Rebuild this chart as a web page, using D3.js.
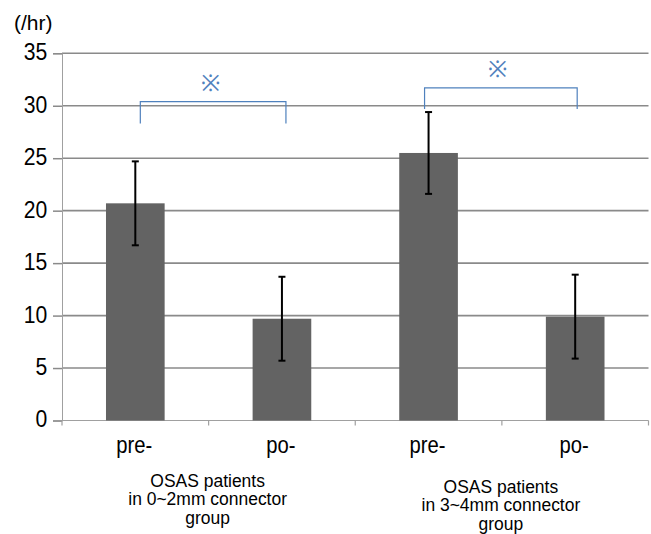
<!DOCTYPE html>
<html>
<head>
<meta charset="utf-8">
<script src="https://cdn.jsdelivr.net/npm/d3@7"></script>
<style>
  html, body { margin: 0; padding: 0; background: #fff; }
  text { font-family: "Liberation Sans", Arial, Helvetica, sans-serif; fill: #000; }
</style>
</head>
<body>
<div id="chart"></div>
<script>
// values
const categories = ['pre-', 'po-', 'pre-', 'po-'];
const means = [20.7, 9.7, 25.5, 9.9];
const errors = [4.0, 4.0, 3.9, 4.0];
const yTicks = [0, 5, 10, 15, 20, 25, 30, 35];
const groupLabels = [
  ['OSAS patients', 'in 0~2mm connector', 'group'],
  ['OSAS patients', 'in 3~4mm connector', 'group']
];
// significance brackets: [from bar, to bar, top value, leg value, mark value]
const brackets = [
  [0, 1, 30.4, 28.3, 32.2],
  [2, 3, 31.7, 29.7, 33.5]
];

const width = 651, height = 534;
const margin = { top: 53.3, right: 2.5, bottom: 113.5, left: 62 };

const svg = d3.select('#chart')
  .append('svg')
  .attr('width', width)
  .attr('height', height);

const x = d3.scaleBand()
  .domain(d3.range(categories.length))
  .range([margin.left, width - margin.right])
  .paddingInner(0.6)
  .paddingOuter(0.3);

const y = d3.scaleLinear()
  .domain([0, 35])
  .range([height - margin.bottom, margin.top]);

// gridlines
svg.append('g')
  .selectAll('line')
  .data(yTicks.filter(d => d > 0))
  .join('line')
  .attr('x1', margin.left)
  .attr('x2', width - margin.right)
  .attr('y1', d => y(d))
  .attr('y2', d => y(d))
  .attr('stroke', '#8a8a8a')
  .attr('stroke-width', 1.6);

// y axis
const yAxis = svg.append('g')
  .attr('transform', `translate(${margin.left},0)`)
  .call(d3.axisLeft(y).tickValues(yTicks).tickSize(9).tickPadding(7));
yAxis.select('.domain').attr('stroke', '#a0a0a0').attr('stroke-width', 1);
yAxis.selectAll('.tick line').attr('stroke', '#8a8a8a').attr('stroke-width', 1.5);
yAxis.selectAll('.tick text')
  .attr('font-size', 23)
  .attr('font-family', '"Liberation Sans", Arial, sans-serif')
  .attr('fill', '#000')
  .attr('dy', '0.28em')
  .attr('transform', 'scale(0.92,1)');

// x axis with ticks at band boundaries
const xAxisY = y(0);
svg.append('line')
  .attr('x1', margin.left)
  .attr('x2', width - margin.right)
  .attr('y1', xAxisY)
  .attr('y2', xAxisY)
  .attr('stroke', '#a0a0a0')
  .attr('stroke-width', 1.2);

const bounds = d3.range(categories.length + 1)
  .map(i => i < categories.length ? x(i) - x.step() * x.paddingOuter() : width - margin.right);
svg.append('g')
  .selectAll('line')
  .data(bounds)
  .join('line')
  .attr('x1', d => d)
  .attr('x2', d => d)
  .attr('y1', xAxisY)
  .attr('y2', xAxisY + 5)
  .attr('stroke', '#a0a0a0')
  .attr('stroke-width', 1.2);

// bars
svg.append('g')
  .selectAll('rect')
  .data(means)
  .join('rect')
  .attr('x', (d, i) => x(i))
  .attr('y', d => y(d))
  .attr('width', x.bandwidth())
  .attr('height', d => y(0) - y(d))
  .attr('fill', '#636363');

// error bars
const cx = i => x(i) + x.bandwidth() / 2;
const eb = svg.append('g').attr('stroke', '#000').attr('stroke-width', 2);
means.forEach((m, i) => {
  const lo = y(m - errors[i]), hi = y(m + errors[i]);
  eb.append('line').attr('x1', cx(i)).attr('x2', cx(i)).attr('y1', lo).attr('y2', hi);
  eb.append('line').attr('x1', cx(i) - 3.5).attr('x2', cx(i) + 3.5).attr('y1', lo).attr('y2', lo);
  eb.append('line').attr('x1', cx(i) - 3.5).attr('x2', cx(i) + 3.5).attr('y1', hi).attr('y2', hi);
});

// x tick labels
svg.append('g')
  .selectAll('text')
  .data(categories)
  .join('text')
  .attr('transform', (d, i) => `translate(${cx(i) - 1},452.7) scale(0.88,1)`)
  .attr('text-anchor', 'middle')
  .attr('font-size', 23)
  .text(d => d);

// group labels
groupLabels.forEach((lines, g) => {
  const gx = (cx(g * 2) + cx(g * 2 + 1)) / 2 - 1;
  const base = g === 0 ? 486.5 : 492.5;
  lines.forEach((s, k) => {
    svg.append('text')
      .attr('transform', `translate(${gx},${base + k * 18.5}) scale(0.945,1)`)
      .attr('text-anchor', 'middle')
      .attr('font-size', 18.5)
      .text(s);
  });
});

// significance brackets
const nudge = [[5, 4], [-4, 2]];
brackets.forEach(([a, b, top, leg, mark], k) => {
  const x1 = cx(a) + nudge[k][0], x2 = cx(b) + nudge[k][1];
  svg.append('path')
    .attr('d', `M${x1},${y(leg)}V${y(top)}H${x2}V${y(leg)}`)
    .attr('fill', 'none')
    .attr('stroke', '#4f81bd')
    .attr('stroke-width', 1.2);
  svg.append('text')
    .attr('x', (x1 + x2) / 2 - 3)
    .attr('y', y(mark))
    .attr('dy', '0.35em')
    .attr('text-anchor', 'middle')
    .attr('font-size', 23)
    .attr('font-family', '"Noto Sans CJK JP", "DejaVu Sans", sans-serif')
    .style('fill', '#4f81bd')
    .text('※');
});

// unit label
svg.append('text')
  .attr('x', 14)
  .attr('y', 29.5)
  .attr('font-size', 21)
  .text('(/hr)');
</script>
</body>
</html>
